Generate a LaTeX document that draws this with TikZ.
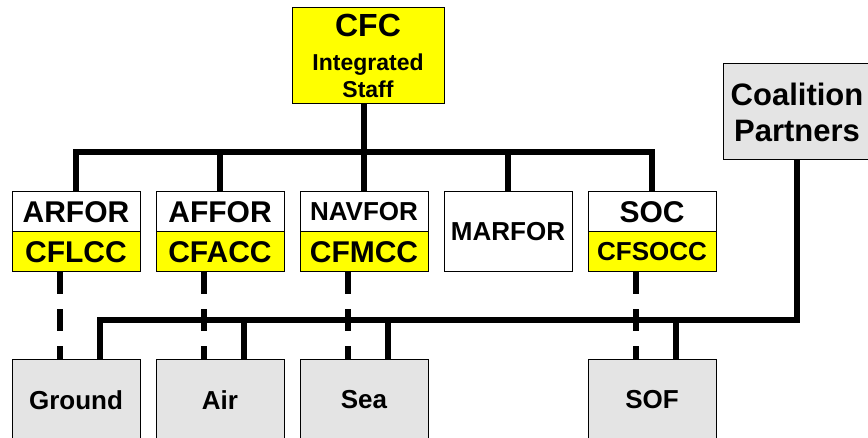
\documentclass[tikz,border=0pt]{standalone}
\usepackage{fontspec}
\setmainfont{Liberation Sans}
\definecolor{boxgray}{RGB}{228,228,228}
\definecolor{boxyellow}{RGB}{255,255,0}
\begin{document}
\begin{tikzpicture}[x=1pt,y=-1pt,
  box/.style={draw=black,line width=1pt,inner sep=0pt,align=center,font=\bfseries},
  wbox/.style={box,fill=white,minimum width=128pt,minimum height=40pt},
  ybox/.style={box,fill=boxyellow,minimum width=128pt,minimum height=40pt},
  gbox/.style={box,fill=boxgray,minimum width=128pt,minimum height=80pt},
  bus/.style={line width=6pt,line join=miter,draw=black},
  dashline/.style={line width=6pt,draw=black,dash pattern=on 22pt off 15pt},
  big/.style={font=\bfseries\fontsize{30}{34}\selectfont},
  mid/.style={font=\bfseries\fontsize{26}{30}\selectfont}
]
\useasboundingbox (0,0) rectangle (868,438);
\clip (0,0) rectangle (868,438);

% coordinates of the two buses
\coordinate (tb) at (364,152);
\coordinate (bb) at (797,320);

% top nodes
\node[box,fill=boxyellow,minimum width=152pt,minimum height=96pt,
      font=\bfseries\fontsize{23}{27}\selectfont] (cfc) at (368,56)
  {{\fontsize{32}{34}\selectfont CFC}\\[7pt]Integrated\\Staff};
\node[box,fill=boxgray,minimum width=148pt,minimum height=96pt,
      font=\bfseries\fontsize{31}{36}\selectfont] (coal) at (797,112)
  {Coalition\\Partners};

% component row
\node[wbox,big] (arfor) at (76,212) {ARFOR};
\node[ybox,big] (cflcc) at (76,252) {CFLCC};
\node[wbox,big] (affor) at (220,212) {AFFOR};
\node[ybox,big] (cfacc) at (220,252) {CFACC};
\node[wbox,mid] (navfor) at (364,212) {NAVFOR};
\node[ybox,big] (cfmcc) at (364,252) {CFMCC};
\node[box,mid,fill=white,minimum width=128pt,minimum height=80pt] (marfor) at (508,232) {MARFOR};
\node[wbox,big] (soc) at (652,212) {SOC};
\node[ybox,mid] (cfsocc) at (652,252) {CFSOCC};

% bottom row
\node[gbox,mid] (ground) at (76,400) {Ground};
\node[gbox,mid] (air) at (220,400) {Air};
\node[gbox,mid] (sea) at (364,400) {Sea};
\node[gbox,mid] (sof) at (652,400) {SOF};

% top bus
\draw[bus] (cfc.south -| tb) -- (tb);
\draw[bus] (arfor.north) |- (tb) -| (soc.north);
\draw[bus] (tb) -- (navfor.north);
\draw[bus] (affor.north |- tb) -- (affor.north);
\draw[bus] (marfor.north |- tb) -- (marfor.north);

% dashed links
\draw[dashline] ([xshift=-16pt]cflcc.south) -- ([xshift=-16pt]ground.north);
\draw[dashline] ([xshift=-16pt]cfacc.south) -- ([xshift=-16pt]air.north);
\draw[dashline] ([xshift=-16pt]cfmcc.south) -- ([xshift=-16pt]sea.north);
\draw[dashline] ([xshift=-16pt]cfsocc.south) -- ([xshift=-16pt]sof.north);

% bottom bus
\draw[bus] ([xshift=24pt]ground.north) |- (bb) -- (coal.south);
\draw[bus] ([xshift=24pt]air.north) -- ([xshift=24pt]air.north |- bb);
\draw[bus] ([xshift=24pt]sea.north) -- ([xshift=24pt]sea.north |- bb);
\draw[bus] ([xshift=24pt]sof.north) -- ([xshift=24pt]sof.north |- bb);
\end{tikzpicture}
\end{document}
